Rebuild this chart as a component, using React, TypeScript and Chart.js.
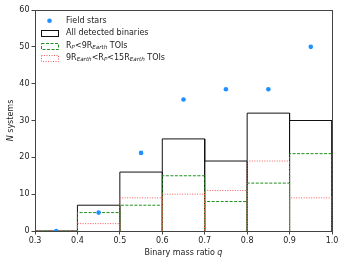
import React, { useEffect, useRef } from "react";
import { Chart, registerables } from "chart.js";
Chart.register(...registerables);

const binEdges = [0.3, 0.4, 0.5, 0.6, 0.7, 0.8, 0.9, 1.0];
const allBinaries = [0, 7, 16, 25, 19, 32, 30];
const smallPlanetHosts = [0, 5, 7, 15, 8, 13, 21];
const giantPlanetHosts = [0, 2, 9, 10, 11, 19, 9];
const fieldQ = [0.35, 0.45, 0.55, 0.65, 0.75, 0.85, 0.95];
const fieldStars = [0, 5, 21.2, 35.7, 38.5, 38.5, 50];
const xTicks = [0.3, 0.4, 0.5, 0.6, 0.7, 0.8, 0.9, 1.0];
const yTicks = [0, 10, 20, 30, 40, 50, 60];

const FONT = "'DejaVu Sans', 'Liberation Sans', sans-serif";

function outline(edges: number[], heights: number[]) {
  const pts: { x: number; y: number }[] = [];
  heights.forEach((h, i) => {
    pts.push({ x: edges[i], y: 0 });
    pts.push({ x: edges[i], y: h });
    pts.push({ x: edges[i + 1], y: h });
    pts.push({ x: edges[i + 1], y: 0 });
  });
  return pts;
}

type Seg = { t: string; sub?: boolean; it?: boolean };

function drawSegs(ctx: CanvasRenderingContext2D, segs: Seg[], x: number, y: number) {
  let cx = x;
  segs.forEach((s) => {
    const size = s.sub ? 5.6 : 8;
    ctx.font = `${s.it ? "italic " : ""}${size}px ${FONT}`;
    ctx.fillText(s.t, cx, s.sub ? y + 2 : y);
    cx += ctx.measureText(s.t).width;
  });
}

const GREEN = "#1f8f1f";
const RED = "#f45a5a";
const BLUE = "#1e90ff";

const framePlugin = {
  id: "frameAndLegend",
  afterDatasetsDraw(chart: any) {
    const { ctx, chartArea: a } = chart;
    ctx.save();
    ctx.strokeStyle = "#444";
    ctx.lineWidth = 1;
    ctx.setLineDash([]);
    ctx.strokeRect(Math.round(a.left) + 0.5, Math.round(a.top) + 0.5, Math.round(a.right - a.left), Math.round(a.bottom - a.top));
    ctx.restore();
  },
  afterDraw(chart: any) {
    const { ctx, chartArea: a } = chart;
    ctx.save();
    ctx.fillStyle = "#222";
    ctx.textBaseline = "middle";
    // axis titles
    ctx.textAlign = "left";
    const xl: Seg[] = [{ t: "Binary mass ratio " }, { t: "q", it: true }];
    ctx.font = `8px ${FONT}`;
    let w = ctx.measureText("Binary mass ratio ").width;
    ctx.font = `italic 8px ${FONT}`;
    w += ctx.measureText("q").width;
    drawSegs(ctx, xl, (a.left + a.right) / 2 - w / 2, 253);
    ctx.save();
    ctx.translate(11, (a.top + a.bottom) / 2);
    ctx.rotate(-Math.PI / 2);
    const yl: Seg[] = [{ t: "N", it: true }, { t: " systems" }];
    ctx.font = `italic 8px ${FONT}`;
    let w2 = ctx.measureText("N").width;
    ctx.font = `8px ${FONT}`;
    w2 += ctx.measureText(" systems").width;
    drawSegs(ctx, yl, -w2 / 2, 0);
    ctx.restore();

    // legend
    const hx = 41, hw = 17, hh = 6, tx = 66;
    const rows = [20.7, 33.1, 45.5, 58];
    ctx.fillStyle = BLUE;
    ctx.beginPath();
    ctx.arc(hx + hw / 2, rows[0], 2.3, 0, Math.PI * 2);
    ctx.fill();
    const boxes = [
      { c: "#111", d: [] as number[] },
      { c: GREEN, d: [3, 1.5] },
      { c: RED, d: [1, 1.5] },
    ];
    boxes.forEach((b, i) => {
      ctx.strokeStyle = b.c;
      ctx.lineWidth = 1;
      ctx.setLineDash(b.d);
      ctx.strokeRect(hx + 0.5, Math.round(rows[i + 1] - hh / 2) + 0.5, hw, hh);
    });
    ctx.setLineDash([]);
    ctx.fillStyle = "#222";
    drawSegs(ctx, [{ t: "Field stars" }], tx, rows[0]);
    drawSegs(ctx, [{ t: "All detected binaries" }], tx, rows[1]);
    drawSegs(ctx, [{ t: "R" }, { t: "P", sub: true, it: true }, { t: "<9R" }, { t: "Earth", sub: true, it: true }, { t: " TOIs" }], tx, rows[2]);
    drawSegs(ctx, [{ t: "9R" }, { t: "Earth", sub: true, it: true }, { t: "<R" }, { t: "P", sub: true, it: true }, { t: "<15R" }, { t: "Earth", sub: true, it: true }, { t: " TOIs" }], tx, rows[3]);
    ctx.restore();
  },
};

export default function App() {
  const ref = useRef<HTMLCanvasElement>(null);
  useEffect(() => {
    document.body.style.margin = "0";
    const chart = new Chart(ref.current!, {
      type: "line",
      data: {
        datasets: [
          {
            type: "scatter",
            label: "Field stars",
            data: fieldQ.map((x, i) => ({ x, y: fieldStars[i] })),
            backgroundColor: BLUE,
            borderColor: BLUE,
            pointRadius: 2.3,
            borderWidth: 0,
          } as any,
          {
            label: "9R_Earth<R_P<15R_Earth TOIs",
            data: outline(binEdges, giantPlanetHosts),
            borderColor: RED,
            borderWidth: 1,
            borderDash: [1, 1.5],
            pointRadius: 0,
            fill: false,
            tension: 0,
          },
          {
            label: "R_P<9R_Earth TOIs",
            data: outline(binEdges, smallPlanetHosts),
            borderColor: GREEN,
            borderWidth: 1,
            borderDash: [3, 1.5],
            pointRadius: 0,
            fill: false,
            tension: 0,
          },
          {
            label: "All detected binaries",
            data: outline(binEdges, allBinaries),
            borderColor: "#111",
            borderWidth: 1,
            pointRadius: 0,
            fill: false,
            tension: 0,
          },
        ],
      },
      options: {
        animation: false,
        responsive: false,
        devicePixelRatio: 1,
        layout: { padding: { top: 10, right: 13, left: 0, bottom: 0 } },
        plugins: { legend: { display: false }, tooltip: { enabled: false } },
        scales: {
          x: {
            type: "linear",
            min: 0.3,
            max: 1.0,
            afterBuildTicks: (s: any) => {
              s.ticks = xTicks.map((v) => ({ value: v }));
            },
            afterFit: (s: any) => {
              s.height = 33;
            },
            ticks: {
              callback: (v: any) => Number(v).toFixed(1),
              font: { family: FONT, size: 8 },
              color: "#222",
              padding: 2,
              maxRotation: 0,
              autoSkip: false,
            },
            grid: { drawOnChartArea: false, drawTicks: true, tickLength: 3.5, color: "#444" },
            border: { display: false },
          },
          y: {
            type: "linear",
            min: 0,
            max: 60,
            afterBuildTicks: (s: any) => {
              s.ticks = yTicks.map((v) => ({ value: v }));
            },
            afterFit: (s: any) => {
              s.width = 35;
            },
            ticks: {
              font: { family: FONT, size: 8 },
              color: "#222",
              padding: 2,
            },
            grid: { drawOnChartArea: false, drawTicks: true, tickLength: 3.5, color: "#444" },
            border: { display: false },
          },
        },
      },
      plugins: [framePlugin],
    });
    return () => chart.destroy();
  }, []);
  return (
    <div style={{ position: "absolute", left: 0, top: 0, width: 345, height: 264 }}>
      <canvas ref={ref} width={345} height={264} style={{ width: 345, height: 264 }} />
    </div>
  );
}
